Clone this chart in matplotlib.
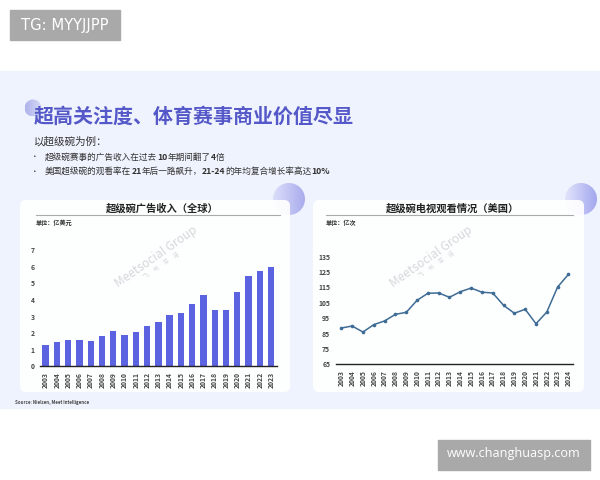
import numpy as np
import matplotlib
matplotlib.use("Agg")
import matplotlib.pyplot as plt
from matplotlib.patches import Circle, FancyBboxPatch, Rectangle

plt.rcParams['font.family'] = ['Noto Sans CJK SC', 'DejaVu Sans']

years_ad = [str(y) for y in range(2003, 2024)]
ad_revenue = [1.29, 1.49, 1.57, 1.6, 1.5, 1.85, 2.13, 1.9, 2.1, 2.43, 2.7,
              3.07, 3.2, 3.73, 4.28, 3.4, 3.37, 4.48, 5.42, 5.76, 5.98]
years_tv = [str(y) for y in range(2003, 2025)]
tv_viewers = [88.6, 89.9, 86, 90.8, 93.2, 97.5, 98.8, 106.6, 111.2, 111.4, 108.6,
              112.2, 114.6, 111.9, 111.4, 103.4, 98.2, 100.8, 91.4, 99, 115.3, 123.5]
ad_ticks = [0, 1, 2, 3, 4, 5, 6, 7]
tv_ticks = [65, 75, 85, 95, 105, 115, 125, 135]

W, H = 600, 480
fig = plt.figure(figsize=(W / 100, H / 100), dpi=100, facecolor='white')

# whole figure in pixel coords, y pointing down like the screenshot
bg = fig.add_axes([0, 0, 1, 1])
bg.set_xlim(0, W)
bg.set_ylim(H, 0)
bg.axis('off')


def axes_px(x0, y0, x1, y1):
    return fig.add_axes([x0 / W, 1 - y1 / H, (x1 - x0) / W, (y1 - y0) / H], facecolor='none')


def gradient_circle(cx, cy, r, c0, c1):
    grad = np.linspace(0, 1, 64).reshape(1, -1)
    cmap = matplotlib.colors.LinearSegmentedColormap.from_list('g', [c0, c1])
    im = bg.imshow(grad, extent=[cx - r, cx + r, cy + r, cy - r], cmap=cmap, aspect='auto', zorder=2)
    im.set_clip_path(Circle((cx, cy), r, transform=bg.transData))


def rich_line(x, y, parts, size, color):
    # draws normal and bold pieces one after the other
    r = fig.canvas.get_renderer()
    for s, bold in parts:
        t = bg.text(x, y, s, fontsize=size, color=color, va='center', ha='left',
                    fontweight='bold' if bold else 'normal', zorder=6)
        ext = t.get_window_extent(r)
        x = x + ext.width


bg.add_patch(Rectangle((0, 71), W, 337, color='#eff3fd', zorder=1))

# grey stamps
bg.add_patch(Rectangle((10, 10), 110, 30, color='#a9a9a9', zorder=5))
bg.text(65, 25.5, 'TG: MYYJJPP', color='white', fontsize=10.6, ha='center', va='center', zorder=6,
        family='DejaVu Sans')
bg.add_patch(Rectangle((438, 440), 152, 30, color='#a9a9a9', zorder=5))
bg.text(514, 454, 'www.changhuasp.com', color='white', fontsize=9.1, ha='center', va='center', zorder=6,
        family='Open Sans')

# round decorations
gradient_circle(33, 108, 8.5, '#aeb2ea', '#d9dcf8')
gradient_circle(289, 199, 16, '#dcdefa', '#a9aced')
gradient_circle(581, 199, 16, '#e2e4fb', '#a3a7ee')

bg.text(33.5, 116, '超高关注度、体育赛事商业价值尽显', fontsize=14.4, fontweight='bold',
        color='#5458c8', va='center', ha='left', zorder=6)
bg.text(34, 141.5, '以超级碗为例：', fontsize=7.6, color='#333333', va='center', ha='left', zorder=6)
bg.text(35, 157, '•', fontsize=5.5, color='#333333', va='center', ha='center', zorder=6)
bg.text(35, 171.5, '•', fontsize=5.5, color='#333333', va='center', ha='center', zorder=6)
rich_line(45, 157, [('超级碗赛事的广告收入在过去', False), ('10', True), ('年期间翻了', False), ('4', True), ('倍', False)],
          6.2, '#333333')
rich_line(45, 171.5, [('美国超级碗的观看率在', False), ('21', True), ('年后一路飙升，', False), ('21-24', True),
                      ('的年均复合增长率高达', False), ('10%', True)], 6.2, '#333333')
bg.text(15, 402.7, 'Source: Nielsen, Meet Intelligence', fontsize=3.15, fontweight='bold', color='#444444',
        va='center', ha='left', zorder=6)

# white cards
for x0, x1 in [(20, 290), (313, 584)]:
    bg.add_patch(FancyBboxPatch((x0 + 6, 206), x1 - x0 - 12, 186 - 6, boxstyle='round,pad=6',
                                fc='white', ec='none', alpha=0.93, zorder=3))

# card headings
bg.text(105.5, 208, '超级碗广告收入（全球）', fontsize=7.4, fontweight='bold', color='#222222',
        ha='left', va='center', zorder=6)
bg.plot([36, 280], [214.5, 214.5], color='#aaaaaa', lw=0.8, zorder=6)
bg.text(36, 223, '单位：亿美元', fontsize=4.4, fontweight='bold', color='#333333', va='center', zorder=6)
bg.text(385.5, 208, '超级碗电视观看情况（美国）', fontsize=7.4, fontweight='bold', color='#222222',
        ha='left', va='center', zorder=6)
bg.plot([326, 573], [214.5, 214.5], color='#aaaaaa', lw=0.8, zorder=6)
bg.text(326, 223, '单位：亿次', fontsize=4.4, fontweight='bold', color='#333333', va='center', zorder=6)

# watermarks
for wx, wy, cx, cy in [(156, 256.5, 161.7, 265.8), (430.8, 256.7, 436.7, 265)]:
    bg.text(wx, wy, 'Meetsocial Group', fontsize=8.6, color='#d6d7dc', rotation=35, ha='center', va='center',
            rotation_mode='anchor', zorder=6)
    bg.text(cx, cy, '飞     书     深     诺', fontsize=4.2, color='#d6d7dc', rotation=35, ha='center', va='center',
            rotation_mode='anchor', zorder=6)

# bar chart
ax1 = axes_px(40, 250.3, 276.7, 366.3)
ax1.bar(years_ad, ad_revenue, width=0.56, color='#5b63e0', zorder=2)
ax1.set_ylim(0, 7)
ax1.set_xlim(-0.5, 20.5)
ax1.set_yticks(ad_ticks)

# line chart
ax2 = axes_px(335.7, 256.7, 573.3, 364.3)
ax2.plot(years_tv, tv_viewers, color='#3f6c96', lw=1.1, marker='o', ms=1.6, zorder=2)
ax2.set_ylim(65, 135)
ax2.set_xlim(-0.52, 21.45)
ax2.set_yticks(tv_ticks)

for ax in (ax1, ax2):
    for s in ['top', 'left', 'right']:
        ax.spines[s].set_visible(False)
    ax.spines['bottom'].set_linewidth(1.0)
    ax.spines['bottom'].set_color('#222222')
    ax.tick_params(axis='both', length=0, labelsize=4.9, labelcolor='#444444')
    ax.tick_params(axis='x', labelrotation=90, pad=4)
    ax.tick_params(axis='y', pad=4)
    for lab in ax.get_xticklabels() + ax.get_yticklabels():
        lab.set_fontweight('bold')

fig.savefig('out.png', dpi=100, facecolor='white')
